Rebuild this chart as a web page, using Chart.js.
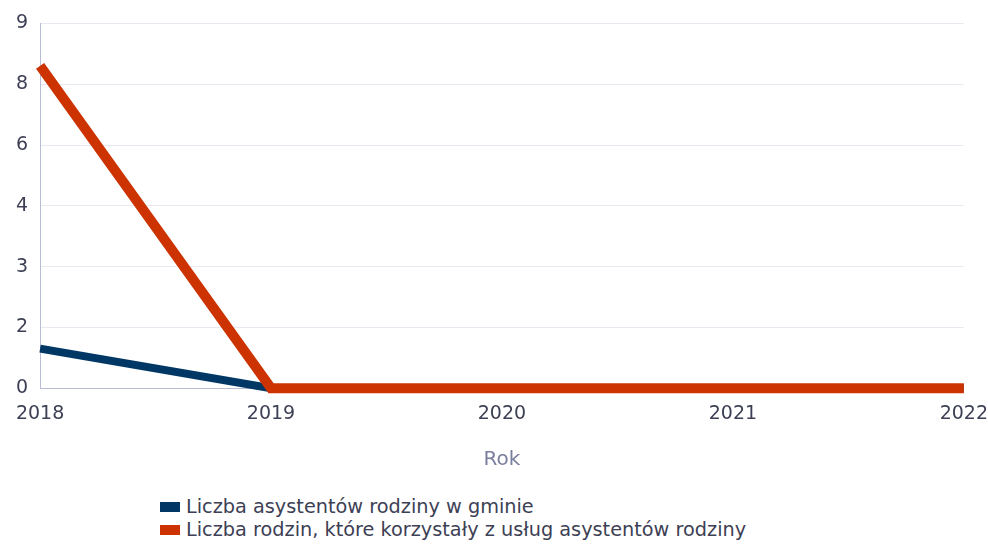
<!DOCTYPE html>
<html>
<head>
<meta charset="utf-8">
<script src="https://cdn.jsdelivr.net/npm/chart.js@4"></script>
<style>
  body { margin: 0; background: #fff; font-family: "DejaVu Sans", sans-serif; }
  #wrap { position: relative; width: 988px; height: 544px; overflow: hidden; }
  #chart { position: absolute; left: 0; top: 0; }
  #legend { position: absolute; left: 160px; top: 495px; font-size: 19.3px; color: #3d3f55; line-height: 23px; }
  #legend div { display: flex; align-items: center; }
  #legend span.box { display: inline-block; width: 20px; height: 10px; margin-right: 6px; }
</style>
</head>
<body>
<div id="wrap">
  <canvas id="chart" width="1002" height="476"></canvas>
  <div id="legend"></div>
</div>
<script>
const years = ['2018', '2019', '2020', '2021', '2022'];
const assistants = [1.3, 0, 0, 0, 0];
const families = [8.3, 0, 0, 0, 0];
const yTickLabels = [0, 2, 3, 4, 6, 8, 9];

const seriesNames = ['Liczba asystentów rodziny w gminie', 'Liczba rodzin, które korzystały z usług asystentów rodziny'];
const seriesColors = ['#003764', '#cc3300'];

// the axis is spaced by tick index, not by value
function toPos(v) {
    for (let i = 0; i < yTickLabels.length - 1; i++) {
        const a = yTickLabels[i], b = yTickLabels[i + 1];
        if (v <= b) return i + (v - a) / (b - a);
    }
    return yTickLabels.length - 1;
}

const ctx = document.getElementById('chart').getContext('2d');
const chart = new Chart(ctx, {
    type: 'line',
    data: {
        labels: years,
        datasets: [{
            label: seriesNames[0],
            data: assistants.map(toPos),
            borderColor: seriesColors[0],
            backgroundColor: seriesColors[0],
            borderWidth: 8,
            pointRadius: 0,
            tension: 0,
            clip: false,
            order: 1
        }, {
            label: seriesNames[1],
            data: families.map(toPos),
            borderColor: seriesColors[1],
            backgroundColor: seriesColors[1],
            borderWidth: 10,
            pointRadius: 0,
            tension: 0,
            clip: false,
            order: 0
        }]
    },
    options: {
        responsive: false,
        animation: false,
        layout: { padding: { top: 16, right: 0, left: 4 } },
        plugins: {
            legend: { display: false },
            tooltip: { enabled: false }
        },
        scales: {
            x: {
                offset: false,
                grid: { display: false, drawTicks: false },
                border: { color: '#b8bcd4', width: 1 },
                ticks: { color: '#3d3f55', font: { family: 'DejaVu Sans', size: 19 }, padding: 14, maxRotation: 0 },
                title: { display: true, text: 'Rok', color: '#7b7f9e', font: { family: 'DejaVu Sans', size: 20 }, padding: { top: 9 } }
            },
            y: {
                min: 0,
                max: yTickLabels.length - 1,
                ticks: {
                    stepSize: 1,
                    color: '#3d3f55',
                    font: { family: 'DejaVu Sans', size: 19 },
                    padding: 12,
                    callback: (v) => yTickLabels[v]
                },
                grid: { color: '#e8e9f0', drawTicks: false },
                border: { color: '#b8bcd4', width: 1 }
            }
        }
    }
});

const legend = document.getElementById('legend');
seriesNames.forEach((name, i) => {
    const row = document.createElement('div');
    row.innerHTML = '<span class="box" style="background:' + seriesColors[i] + '"></span>' + name;
    legend.appendChild(row);
});
</script>
</body>
</html>
